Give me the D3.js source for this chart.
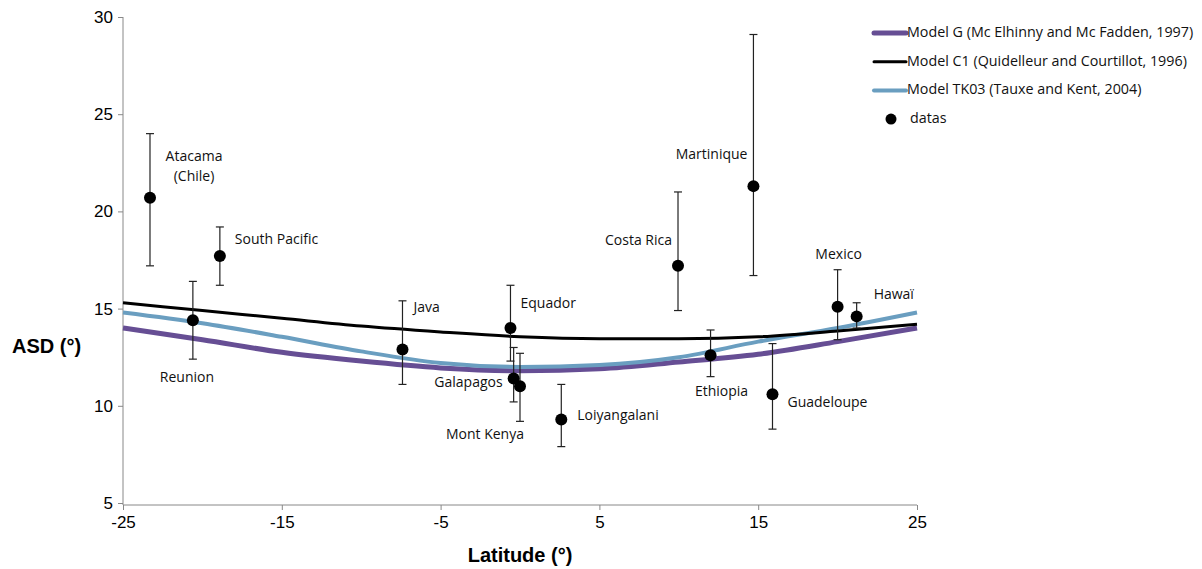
<!DOCTYPE html>
<html><head><meta charset="utf-8">
<script src="https://cdn.jsdelivr.net/npm/d3@7"></script>
<style>body{margin:0;background:#fff}</style>
</head><body>
<svg id="c" width="1202" height="569"></svg>
<script>
// ---- data ----
const sites = ["Atacama (Chile)","South Pacific","Reunion","Java","Equador","Galapagos","Mont Kenya","Loiyangalani","Costa Rica","Ethiopia","Martinique","Guadeloupe","Mexico","Hawaï"];
const siteLat = [-23.3,-18.9,-20.6,-7.4,-0.6,-0.4,0.0,2.6,9.95,12.0,14.7,15.9,20.0,21.2];
const siteASD = [20.7,17.7,14.4,12.9,14.0,11.4,11.0,9.3,17.2,12.6,21.3,10.6,15.1,14.6];
const errHigh = [24.0,19.2,16.4,15.4,16.2,13.0,12.7,11.1,21.0,13.9,29.1,13.2,17.0,15.3];
const errLow  = [17.2,16.2,12.4,11.1,12.3,10.2,9.2,7.9,14.9,11.5,16.7,8.8,13.4,14.0];

const modelLat = [-25,-20,-15,-10,-5,0,5,10,15,20,25];
const modelG   = [14.0,13.4,12.75,12.3,11.95,11.8,11.9,12.25,12.65,13.3,14.0];
const modelC1  = [15.3,14.9,14.5,14.1,13.8,13.55,13.45,13.45,13.55,13.85,14.2];
const modelTK  = [14.8,14.25,13.55,12.8,12.2,12.0,12.1,12.5,13.3,14.0,14.8];

const seriesNames = ["Model G (Mc Elhinny and Mc Fadden, 1997)","Model C1 (Quidelleur and Courtillot, 1996)","Model TK03 (Tauxe and Kent, 2004)","datas"];
const xTicks = [-25,-15,-5,5,15,25];
const yTicks = [5,10,15,20,25,30];

// ---- layout ----
const svg = d3.select("#c");
const L=123,R=917,T=17,B=503;
const x = d3.scaleLinear().domain([-25,25]).range([L,R]);
const y = d3.scaleLinear().domain([5,30]).range([B,T]);

// axes
const xa = svg.append("g").attr("transform",`translate(0,${B+2})`)
  .call(d3.axisBottom(x).tickValues(xTicks).tickSize(5).tickPadding(6).tickFormat(d=>String(d)));
const ya = svg.append("g").attr("transform",`translate(${L},0)`)
  .call(d3.axisLeft(y).tickValues(yTicks).tickSize(5).tickPadding(5).tickFormat(d=>String(d)));
[xa,ya].forEach(a=>{
  a.selectAll("path,line").attr("stroke","#888");
  a.selectAll("text").attr("font-family","Liberation Sans, Arial").attr("font-size",17).attr("fill","#000");
});
xa.select("path").attr("d",`M${L},0H${R}`);
ya.select("path").attr("d",`M0,${T}V${B+2}`);

svg.append("text").attr("x",520).attr("y",562).attr("text-anchor","middle")
  .attr("font-family","Liberation Sans, Arial").attr("font-weight","bold").attr("font-size",20).text("Latitude (°)");
svg.append("text").attr("x",12).attr("y",353)
  .attr("font-family","Liberation Sans, Arial").attr("font-weight","bold").attr("font-size",20).text("ASD (°)");

// model curves
const line = d3.line().x(d=>x(d[0])).y(d=>y(d[1])).curve(d3.curveMonotoneX);
const models = [
  {v:modelG, c:"#664e94", w:5},
  {v:modelTK, c:"#6a9ec0", w:4},
  {v:modelC1, c:"#000", w:3}
];
models.forEach(m=>{
  svg.append("path").attr("d",line(modelLat.map((l,i)=>[l,m.v[i]])))
    .attr("fill","none").attr("stroke",m.c).attr("stroke-width",m.w);
});

// error bars + points
const g = svg.append("g");
sites.forEach((s,i)=>{
  const cx = x(siteLat[i]);
  g.append("line").attr("x1",cx).attr("x2",cx).attr("y1",y(errHigh[i])).attr("y2",y(errLow[i])).attr("stroke","#222").attr("stroke-width",1.2);
  [errHigh[i],errLow[i]].forEach(v=>g.append("line").attr("x1",cx-4).attr("x2",cx+4).attr("y1",y(v)).attr("y2",y(v)).attr("stroke","#222").attr("stroke-width",1.2));
});
sites.forEach((s,i)=>{
  g.append("circle").attr("cx",x(siteLat[i])).attr("cy",y(siteASD[i])).attr("r",6).attr("fill","#000");
});

// labels (pixel offsets from each point)
const labelOff = [[44,-41,"middle"],[15,-16,"start"],[-33,58,"start"],[11,-41,"start"],[10,-24,"start"],[-11,5,"end"],[4,49,"end"],[16,-3,"start"],[-6,-25,"end"],[11,37,"middle"],[-6,-31,"end"],[15,9,"start"],[1,-51,"middle"],[17,-21,"start"]];
sites.forEach((s,i)=>{
  const o = labelOff[i];
  const t = svg.append("text").attr("x",x(siteLat[i])+o[0]).attr("y",y(siteASD[i])+o[1])
    .attr("text-anchor",o[2]).attr("dominant-baseline","middle")
    .attr("font-family","Open Sans, Noto Sans").attr("font-size",14).attr("fill","#111");
  if(s.startsWith("Atacama")){
    t.append("tspan").text("Atacama");
    t.append("tspan").attr("x",x(siteLat[i])+o[0]).attr("dy",20).text("(Chile)");
  } else t.text(s);
});

// legend
const lg = svg.append("g");
const legStyle = [{c:"#664e94",w:5},{c:"#000",w:3},{c:"#6a9ec0",w:4},null];
seriesNames.forEach((n,i)=>{
  const yy = 33 + i*28.7;
  if(legStyle[i]) lg.append("line").attr("x1",874).attr("x2",906).attr("y1",yy).attr("y2",yy)
    .attr("stroke",legStyle[i].c).attr("stroke-width",legStyle[i].w).attr("stroke-linecap","round");
  else lg.append("circle").attr("cx",891).attr("cy",yy).attr("r",5.5).attr("fill","#000");
  lg.append("text").attr("x",i===3?910:907).attr("y",yy).attr("dominant-baseline","middle")
    .attr("font-family","Open Sans, Noto Sans").attr("font-size",14.3).attr("fill","#111").text(n);
});
</script>
</body></html>
